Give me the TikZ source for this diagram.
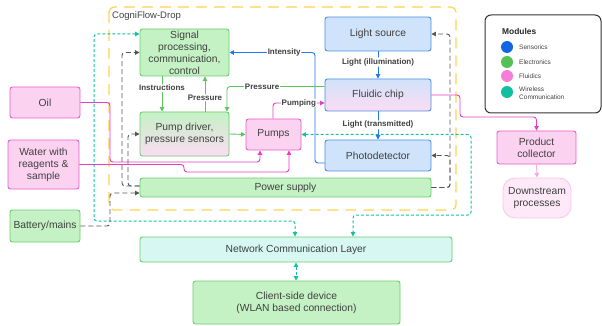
\documentclass[tikz,border=0pt]{standalone}
\usepackage{fontspec}
\setmainfont{Liberation Sans}
\usetikzlibrary{arrows.meta}
\definecolor{gfill}{HTML}{C4F2C4}
\definecolor{gline}{HTML}{6CCB6C}
\definecolor{bfill}{HTML}{CFE3FA}
\definecolor{bline}{HTML}{4A8EE6}
\definecolor{pfill}{HTML}{FBD3F1}
\definecolor{pline}{HTML}{E85DCB}
\definecolor{tfill}{HTML}{D7F8F2}
\definecolor{txt}{HTML}{404040}
\definecolor{ylw}{HTML}{FFD34D}
\definecolor{gry}{HTML}{555555}
\definecolor{tea}{HTML}{12C2A2}
\definecolor{blu}{HTML}{1F78F0}
\definecolor{mag}{HTML}{E53DBE}
\definecolor{grn}{HTML}{5CC65C}
\definecolor{lpk}{HTML}{F7A8E4}
\definecolor{dsfill}{HTML}{FDE9F8}
\definecolor{dsline}{HTML}{F8C8EC}
\definecolor{c1}{HTML}{1565E0}
\definecolor{c2}{HTML}{55C055}
\definecolor{c3}{HTML}{F57FD8}
\definecolor{c4}{HTML}{10BFA0}
\begin{document}
\begin{tikzpicture}[x=1pt,y=-1pt,
  >={Triangle[length=4.5pt,width=4.5pt]},
  box/.style={draw, rounded corners=2.5pt, line width=0.9pt, inner sep=1pt, align=center, text=txt, font=\fontsize{10.3}{12}\selectfont},
  gbox/.style={box, draw=gline, fill=gfill},
  bbox/.style={box, draw=bline, fill=bfill},
  pbox/.style={box, draw=pline, fill=pfill},
  sz/.style 2 args={minimum width=#1pt, minimum height=#2pt},
  gl/.style={gry, line width=0.9pt, dash pattern=on 5pt off 3pt, ->, rounded corners=3pt},
  tl/.style={tea, line width=1pt, dash pattern=on 3pt off 2pt, <->, rounded corners=3pt},
  bl/.style={blu, line width=0.9pt, ->, rounded corners=3pt},
  ml/.style={mag, line width=0.9pt, ->, rounded corners=3pt},
  nl/.style={grn, line width=0.9pt, ->, rounded corners=3pt},
  lbl/.style={fill=white, inner sep=0.8pt, font=\bfseries\fontsize{8}{9}\selectfont, text=txt},
  legt/.style={anchor=west, inner sep=0pt, text=txt, align=left, font=\fontsize{6.5}{8}\selectfont},
  dot/.style={circle, minimum size=12pt, inner sep=0pt}
]
\useasboundingbox (0,0) rectangle (602,326);

% frame
\draw[ylw, line width=1.2pt, dash pattern=on 11pt off 7pt, rounded corners=5pt] (109,7) rectangle (456,210);
\node[anchor=west, inner sep=0pt, text=txt, font=\fontsize{9.5}{11}\selectfont] (title) at (112,16) {CogniFlow-Drop};

% nodes
\node[gbox, sz={89}{47}] (sig) at (184.5,52.5) {Signal\\processing,\\communication,\\control};
\node[gbox, sz={89}{44}, top color=gfill, bottom color=pfill!80] (pd) at (184.5,134) {Pump driver,\\pressure sensors};
\node[pbox, sz={55}{31}] (pumps) at (273.5,134.5) {Pumps};
\node[bbox, sz={106}{34}] (ls) at (378,34) {Light source};
\node[bbox, sz={106}{32}, top color=bfill, bottom color=pfill!80] (fc) at (378,95) {Fluidic chip};
\node[bbox, sz={106}{31}] (ph) at (378,155.5) {Photodetector};
\node[gbox, sz={291}{19}] (ps) at (285.5,187.5) {Power supply};
\node[pbox, sz={70}{31}] (oil) at (45,102.5) {Oil};
\node[pbox, sz={71}{49}] (water) at (43.5,164.5) {Water with\\reagents \&\\sample};
\node[gbox, sz={70}{32}] (bat) at (45,226) {Battery/mains};
\node[box, draw=gline, fill=tfill, sz={312}{25}] (ncl) at (296,249.5) {Network Communication Layer};
\node[gbox, sz={207}{43}] (cl) at (296.5,302.5) {Client-side device\\(WLAN based connection)};
\node[pbox, sz={79}{33}] (pc) at (536.5,147.5) {Product\\collector};
\node[box, draw=dsline, fill=dsfill, rounded corners=12pt, sz={68}{40}] (ds) at (537,198) {Downstream\\processes};

% legend
\node[draw=black!80, line width=1pt, rounded corners=6pt, minimum width=116pt, minimum height=98pt] (leg) at (543,64) {};
\node[anchor=west, inner sep=0pt, text=black!85, font=\bfseries\fontsize{8.4}{10}\selectfont] (legh) at (502,31) {Modules};
\node[dot, fill=c1] (d1) at (507,47) {};
\node[dot, fill=c2] (d2) at (507,62) {};
\node[dot, fill=c3] (d3) at (507,76) {};
\node[dot, fill=c4] (d4) at (507,92) {};
\node[legt] (t1) at (519,47) {Sensorics};
\node[legt] (t2) at (519,62) {Electronics};
\node[legt] (t3) at (519,76) {Fluidics};
\node[legt] (t4) at (519,93) {Wireless\\Communication};

% teal wireless
\draw[tl] (sig.west |- 0,34) -| (94,221) -| (ncl.north -| 295,0);
\draw[tl] (pumps.east) -| (471,215) -| (ncl.north -| 353,0);
\draw[tl] (ncl.south -| 296,0) -- (cl.north -| 296,0);

% gray power
\draw[gl] (bat.east) -| (110,193) -- (ps.west |- 0,193);
\draw[gl] (ps.west |- 0,186) -| (122,52.5) -- (sig.west);
\draw[gl] (ps.west |- 0,186) -| (128,134) -- (pd.west);
\draw[gl] (ps.east) -| (450,34) -- (ls.east);
\draw[gl] (ps.east) -| (450,155.5) -- (ph.east);

% blue sensorics
\draw[bl] (ph.west |- 0,163) -| (315,52.5) -- node[lbl,pos=0.36]{Intensity} (sig.east);
\draw[bl] (ls.south) -- node[lbl,pos=0.39]{Light (illumination)} (fc.north);
\draw[bl] (fc.south) -- node[lbl,pos=0.48]{Light (transmitted)} (ph.north);

% green electronics
\draw[nl] (sig.south -| 162,0) -- node[lbl,pos=0.33]{Instructions} (pd.north -| 162,0);
\draw[nl] (pd.north -| 205,0) -- node[lbl,pos=0.39]{Pressure} (sig.south -| 205,0);
\draw[nl] (fc.west |- 0,86.5) -| node[lbl,pos=0.32]{Pressure} (pd.north -| 227,0);
\draw[nl] (pd.east) -- (pumps.west);

% magenta fluidics
\draw[ml] (pumps.north -| 273,0) |- node[lbl,pos=0.75]{Pumping} (fc.west |- 0,103);
\draw[ml] (oil.east) -| (110,162) -| (pumps.south -| 260,0);
\draw[ml] (water.east) -| (184,172) -| (pumps.south -| 289,0);
\draw[ml] (fc.east) -| (460,117) -| (pc.north);
\draw[lpk, line width=0.9pt, ->] (pc.south) -- (ds.north);
\end{tikzpicture}
\end{document}
